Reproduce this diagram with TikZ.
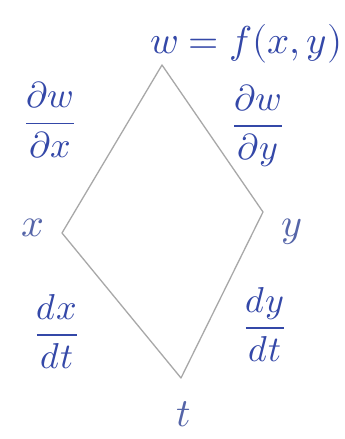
\documentclass[tikz,border=0pt]{standalone}
\usepackage{unicode-math}
\setmathfont{Latin Modern Math}
\usetikzlibrary{calc}
\definecolor{ink}{HTML}{3448A8}
\definecolor{dink}{HTML}{5565A8}
\definecolor{edgegray}{HTML}{A8A8A8}
\tikzset{
  edge/.style={draw=edgegray, line width=1.3pt, line cap=round, line join=round},
  lab/.style={text=ink, inner sep=0pt, font=\fontsize{36}{40}\selectfont},
  var/.style={text=dink, inner sep=0pt, font=\fontsize{40}{44}\selectfont}
}
\begin{document}
\begin{tikzpicture}[x=1pt,y=-1pt]
\useasboundingbox (0,0) rectangle (345,439);
\fill[white] (0,0) rectangle (345,439);
\coordinate (w) at (162,65);
\coordinate (x) at (62,233);
\coordinate (y) at (263,212);
\coordinate (t) at (181,378);
\draw[edge] (w) -- (x) -- (t) -- (y) -- cycle;
\node[lab, anchor=west] (wl) at (150,44) {\resizebox{192pt}{!}{$w = f(x,y)$}};
\node[lab] (dwdx) at (50,120) {$\displaystyle\frac{\partial w}{\partial x}$};
\node[lab] (dwdy) at (258,126) {$\displaystyle\frac{\partial w}{\partial y}$};
\node[var] (xl) at (33,228) {$x$};
\node[var] (yl) at (292,232) {$y$};
\node[var] (tl) at (184,414) {$t$};
\node[lab] (dxdt) at (57,332) {$\displaystyle\frac{dx}{dt}$};
\node[lab] (dydt) at (265,325) {$\displaystyle\frac{dy}{dt}$};
\end{tikzpicture}
\end{document}
